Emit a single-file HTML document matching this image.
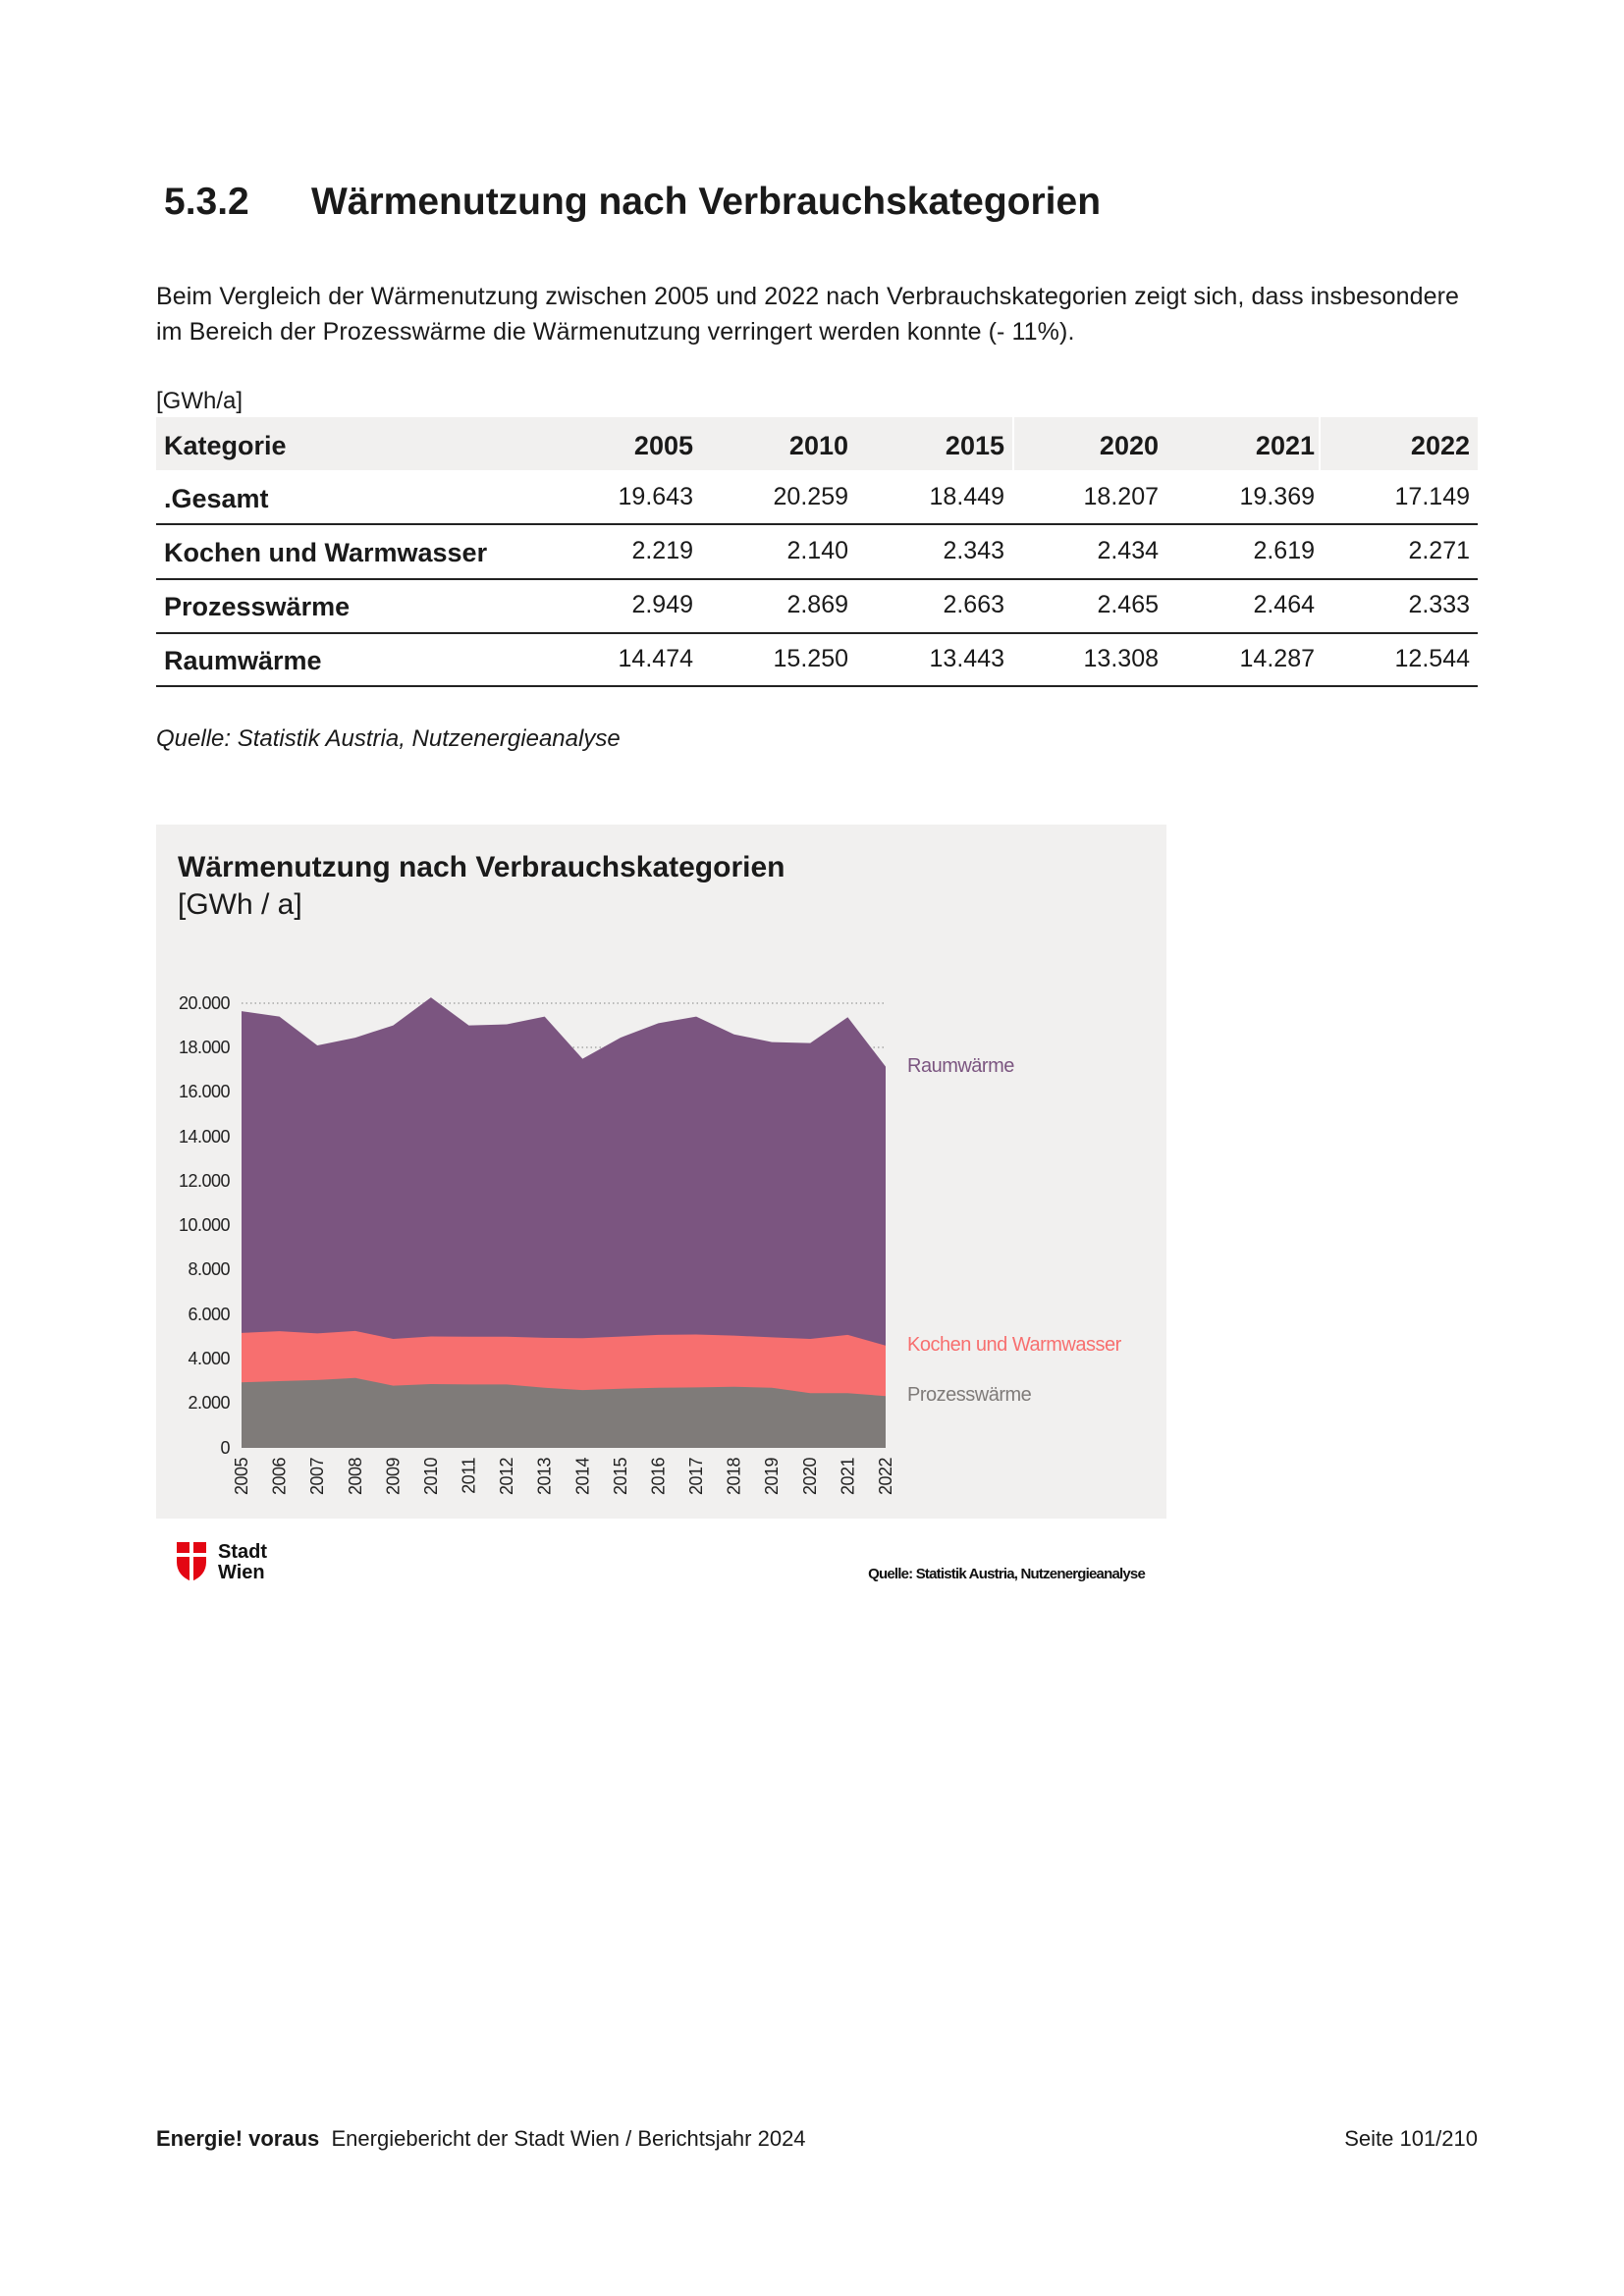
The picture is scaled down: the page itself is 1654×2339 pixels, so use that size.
<!DOCTYPE html>
<html><head><meta charset="utf-8"><style>
body{margin:0;width:1654px;height:2339px;background:#fff;position:relative;font-family:"Liberation Sans",sans-serif;color:#1a1a1a;overflow:hidden}
.a{position:absolute;white-space:nowrap}
.r{text-align:right}
</style></head><body>
<div class="a" style="left:167px;top:184px;font-size:39px;font-weight:bold">5.3.2</div>
<div class="a" style="left:317px;top:184px;font-size:39px;font-weight:bold">Wärmenutzung nach Verbrauchskategorien</div>
<div class="a" style="left:159px;top:288px;font-size:25px;letter-spacing:0.1px">Beim Vergleich der Wärmenutzung zwischen 2005 und 2022 nach Verbrauchskategorien zeigt sich, dass insbesondere</div>
<div class="a" style="left:159px;top:324px;font-size:25px;letter-spacing:0.1px">im Bereich der Prozesswärme die Wärmenutzung verringert werden konnte (- 11%).</div>
<div class="a" style="left:159px;top:395px;font-size:24px">[GWh/a]</div>
<div class="a" style="left:159px;top:425px;width:1346px;height:54px;background:#f1f0ef"></div>
<div class="a" style="left:1031px;top:425px;width:2px;height:54px;background:#fff"></div>
<div class="a" style="left:1343px;top:425px;width:2px;height:54px;background:#fff"></div>
<div class="a" style="left:167px;top:439px;font-size:27px;font-weight:bold">Kategorie</div>
<div class="a r" style="left:0;width:706px;top:439px;font-size:27px;font-weight:bold">2005</div>
<div class="a r" style="left:0;width:864px;top:439px;font-size:27px;font-weight:bold">2010</div>
<div class="a r" style="left:0;width:1023px;top:439px;font-size:27px;font-weight:bold">2015</div>
<div class="a r" style="left:0;width:1180px;top:439px;font-size:27px;font-weight:bold">2020</div>
<div class="a r" style="left:0;width:1339px;top:439px;font-size:27px;font-weight:bold">2021</div>
<div class="a r" style="left:0;width:1497px;top:439px;font-size:27px;font-weight:bold">2022</div>

<div class="a" style="left:167px;top:493px;font-size:27px;font-weight:bold">.Gesamt</div>
<div class="a r" style="left:0;width:706px;top:492px;font-size:25px">19.643</div>
<div class="a r" style="left:0;width:864px;top:492px;font-size:25px">20.259</div>
<div class="a r" style="left:0;width:1023px;top:492px;font-size:25px">18.449</div>
<div class="a r" style="left:0;width:1180px;top:492px;font-size:25px">18.207</div>
<div class="a r" style="left:0;width:1339px;top:492px;font-size:25px">19.369</div>
<div class="a r" style="left:0;width:1497px;top:492px;font-size:25px">17.149</div>
<div class="a" style="left:159px;top:533px;width:1346px;height:2px;background:#222"></div>

<div class="a" style="left:167px;top:548px;font-size:27px;font-weight:bold">Kochen und Warmwasser</div>
<div class="a r" style="left:0;width:706px;top:547px;font-size:25px">2.219</div>
<div class="a r" style="left:0;width:864px;top:547px;font-size:25px">2.140</div>
<div class="a r" style="left:0;width:1023px;top:547px;font-size:25px">2.343</div>
<div class="a r" style="left:0;width:1180px;top:547px;font-size:25px">2.434</div>
<div class="a r" style="left:0;width:1339px;top:547px;font-size:25px">2.619</div>
<div class="a r" style="left:0;width:1497px;top:547px;font-size:25px">2.271</div>
<div class="a" style="left:159px;top:589px;width:1346px;height:2px;background:#222"></div>

<div class="a" style="left:167px;top:603px;font-size:27px;font-weight:bold">Prozesswärme</div>
<div class="a r" style="left:0;width:706px;top:602px;font-size:25px">2.949</div>
<div class="a r" style="left:0;width:864px;top:602px;font-size:25px">2.869</div>
<div class="a r" style="left:0;width:1023px;top:602px;font-size:25px">2.663</div>
<div class="a r" style="left:0;width:1180px;top:602px;font-size:25px">2.465</div>
<div class="a r" style="left:0;width:1339px;top:602px;font-size:25px">2.464</div>
<div class="a r" style="left:0;width:1497px;top:602px;font-size:25px">2.333</div>
<div class="a" style="left:159px;top:644px;width:1346px;height:2px;background:#222"></div>

<div class="a" style="left:167px;top:658px;font-size:27px;font-weight:bold">Raumwärme</div>
<div class="a r" style="left:0;width:706px;top:657px;font-size:25px">14.474</div>
<div class="a r" style="left:0;width:864px;top:657px;font-size:25px">15.250</div>
<div class="a r" style="left:0;width:1023px;top:657px;font-size:25px">13.443</div>
<div class="a r" style="left:0;width:1180px;top:657px;font-size:25px">13.308</div>
<div class="a r" style="left:0;width:1339px;top:657px;font-size:25px">14.287</div>
<div class="a r" style="left:0;width:1497px;top:657px;font-size:25px">12.544</div>
<div class="a" style="left:159px;top:698px;width:1346px;height:2px;background:#222"></div>

<div class="a" style="left:159px;top:739px;font-size:24px;font-style:italic">Quelle: Statistik Austria, Nutzenergieanalyse</div>

<div class="a" style="left:159px;top:840px;width:1029px;height:707px;background:#f1f0ef"></div>
<div class="a" style="left:181px;top:867px;font-size:30px;font-weight:bold">Wärmenutzung nach Verbrauchskategorien</div>
<div class="a" style="left:181px;top:905px;font-size:30px">[GWh / a]</div>

<svg class="a" style="left:0;top:0" width="1654" height="2339">
<g stroke="#999" stroke-dasharray="1.5,3" stroke-width="1.2">
<line x1="246" y1="1022" x2="902" y2="1022"/>
<line x1="246" y1="1067" x2="902" y2="1067"/>
</g>
<polygon fill="#7b5580" points="246,1030.1 284.6,1035.6 323.2,1065 361.8,1057.1 400.4,1044.6 438.9,1016.1 477.5,1044.6 516.1,1043.5 554.7,1035.6 593.3,1078.6 631.9,1057.1 670.5,1042.4 709.1,1035.6 747.6,1053.7 786.2,1061.6 825.2,1062.6 863.4,1036.3 902,1086.6 902,1475 246,1475"/>
<polygon fill="#f76f6f" points="246,1357.9 284.6,1356.1 323.2,1358.4 361.8,1355.9 400.4,1364 438.9,1361.5 477.5,1361.8 516.1,1361.8 554.7,1362.9 593.3,1363.3 631.9,1361.6 670.5,1359.9 709.1,1359.5 747.6,1360.6 786.2,1362.4 825.2,1364 863.4,1359.9 902,1370.7 902,1475 246,1475"/>
<polygon fill="#7f7b79" points="246,1408.2 284.6,1407 323.2,1405.9 361.8,1403.7 400.4,1411.6 438.9,1410 477.5,1410.4 516.1,1410.4 554.7,1413.8 593.3,1416.1 631.9,1414.7 670.5,1413.8 709.1,1413.4 747.6,1412.7 786.2,1413.8 825.2,1419.2 863.4,1419.2 902,1422.2 902,1475 246,1475"/>
<g font-family="Liberation Sans, sans-serif" font-size="18" fill="#222" text-anchor="end" letter-spacing="-0.5">
<text x="234" y="1028">20.000</text><text x="234" y="1073">18.000</text><text x="234" y="1118">16.000</text><text x="234" y="1164">14.000</text><text x="234" y="1209">12.000</text><text x="234" y="1254">10.000</text><text x="234" y="1299">8.000</text><text x="234" y="1345">6.000</text><text x="234" y="1390">4.000</text><text x="234" y="1435">2.000</text><text x="234" y="1481">0</text>
</g>
<g font-family="Liberation Sans, sans-serif" font-size="18" fill="#222" text-anchor="end" letter-spacing="-0.5">
<text transform="translate(252,1485) rotate(-90)">2005</text>
<text transform="translate(290.6,1485) rotate(-90)">2006</text>
<text transform="translate(329.2,1485) rotate(-90)">2007</text>
<text transform="translate(367.8,1485) rotate(-90)">2008</text>
<text transform="translate(406.4,1485) rotate(-90)">2009</text>
<text transform="translate(444.9,1485) rotate(-90)">2010</text>
<text transform="translate(483.5,1485) rotate(-90)">2011</text>
<text transform="translate(522.1,1485) rotate(-90)">2012</text>
<text transform="translate(560.7,1485) rotate(-90)">2013</text>
<text transform="translate(599.3,1485) rotate(-90)">2014</text>
<text transform="translate(637.9,1485) rotate(-90)">2015</text>
<text transform="translate(676.5,1485) rotate(-90)">2016</text>
<text transform="translate(715.1,1485) rotate(-90)">2017</text>
<text transform="translate(753.6,1485) rotate(-90)">2018</text>
<text transform="translate(792.2,1485) rotate(-90)">2019</text>
<text transform="translate(831.2,1485) rotate(-90)">2020</text>
<text transform="translate(869.4,1485) rotate(-90)">2021</text>
<text transform="translate(908,1485) rotate(-90)">2022</text>
</g>
<g font-family="Liberation Sans, sans-serif" font-size="20" letter-spacing="-0.5">
<text x="924" y="1092" fill="#7b5580">Raumwärme</text>
<text x="924" y="1376" fill="#f76f6f">Kochen und Warmwasser</text>
<text x="924" y="1427" fill="#7f7b79">Prozesswärme</text>
</g>
<g transform="translate(180,1571)">
<path d="M0,0 H30 V20 Q30,34 15,40 Q0,34 0,20 Z" fill="#e30613"/>
<rect x="13" y="0" width="4" height="40" fill="#fff"/>
<rect x="0" y="11" width="30" height="4" fill="#fff"/>
</g>
<text x="222" y="1587" font-family="Liberation Sans" font-weight="bold" font-size="20" fill="#111">Stadt</text>
<text x="222" y="1608" font-family="Liberation Sans" font-weight="bold" font-size="20" fill="#111">Wien</text>
<text x="1166" y="1608" text-anchor="end" font-family="Liberation Sans, sans-serif" font-weight="bold" font-size="15" fill="#111" letter-spacing="-0.8">Quelle: Statistik Austria, Nutzenergieanalyse</text>
</svg>

<div class="a" style="left:159px;top:2166px;font-size:22px"><b>Energie! voraus</b>&nbsp; Energiebericht der Stadt Wien / Berichtsjahr 2024</div>
<div class="a r" style="left:0;width:1505px;top:2166px;font-size:22px">Seite 101/210</div>
</body></html>
